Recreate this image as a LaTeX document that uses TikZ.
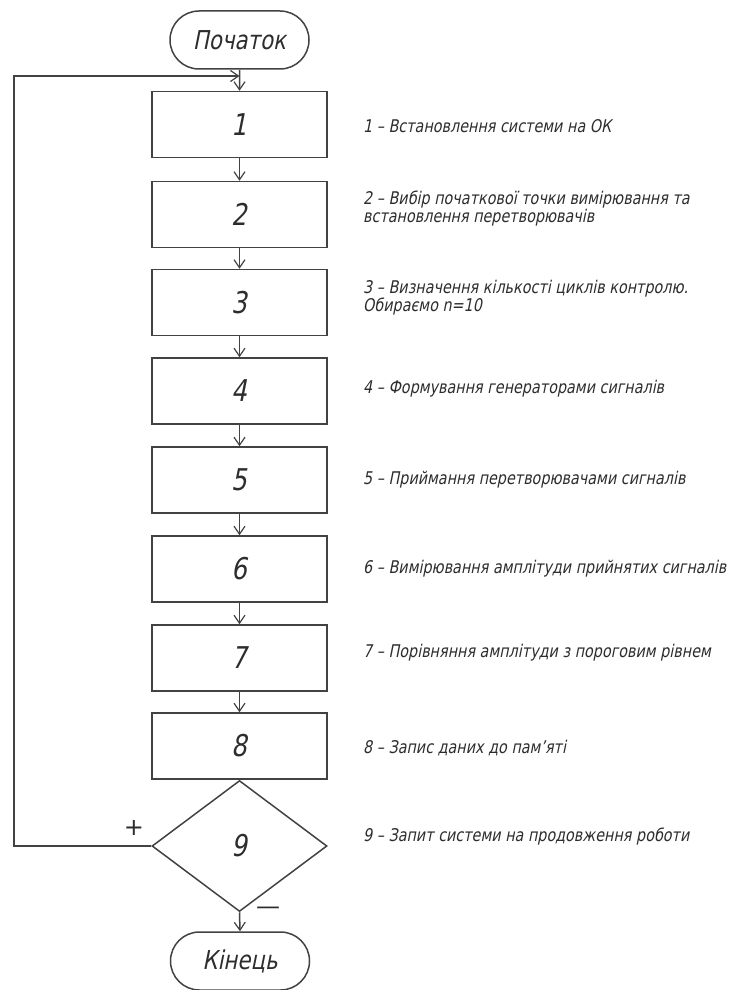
\documentclass[tikz,border=0pt]{standalone}
\usepackage{fontspec}
\usetikzlibrary{arrows.meta,shapes.geometric,shapes.misc}
\newfontfamily\gost{DejaVu Sans}[FakeSlant=0.2,FakeStretch=0.82]
\newfontfamily\gostup{DejaVu Sans}
\definecolor{linegray}{RGB}{66,66,66}
\definecolor{textgray}{RGB}{45,45,45}

\begin{document}
\begin{tikzpicture}[x=1pt,y=-1pt,
  line/.style={draw=linegray, line width=1.5pt},
  flow/.style={line, -{Straight Barb[length=8pt,width=11pt,line width=1.2pt]}},
  bignum/.style={font=\gost\fontsize{30}{30}\selectfont, text=textgray},
  stepbox/.style={line, rectangle, minimum width=175pt, minimum height=66pt,
    inner sep=0pt, bignum},
  term/.style={line, rounded rectangle, minimum width=139pt, minimum height=58pt,
    inner sep=0pt, font=\gost\fontsize{26}{26}\selectfont, text=textgray},
  decide/.style={line, diamond, minimum width=175pt, minimum height=131pt,
    inner sep=0pt, bignum},
  note/.style={anchor=west, align=left, inner sep=0pt, text=textgray,
    font=\gost\fontsize{17.5}{18}\selectfont},
  sign/.style={inner sep=0pt, text=textgray, font=\gostup\fontsize{24}{24}\selectfont}
]
\useasboundingbox (0,0) rectangle (733,990);

% terminals
\node[term] (start) at (239.5,40) {Початок};
\node[term] (stop)  at (240,961) {Кінець};

% process steps
\node[stepbox] (s1) at (239.5,124.5) {1};
\node[stepbox] (s2) at (239.5,214.5) {2};
\node[stepbox] (s3) at (239.5,302.5) {3};
\node[stepbox] (s4) at (239.5,391) {4};
\node[stepbox] (s5) at (239.5,480) {5};
\node[stepbox] (s6) at (239.5,569) {6};
\node[stepbox] (s7) at (239.5,658) {7};
\node[stepbox] (s8) at (239.5,746) {8};

% decision
\node[decide, anchor=north] (s9) at (s8.south) {9};

% main flow
\draw[flow] (start) -- (s1);
\draw[flow] (s1) -- (s2);
\draw[flow] (s2) -- (s3);
\draw[flow] (s3) -- (s4);
\draw[flow] (s4) -- (s5);
\draw[flow] (s5) -- (s6);
\draw[flow] (s6) -- (s7);
\draw[flow] (s7) -- (s8);
\draw[flow] (s9.south) -- (stop.north);

% loop back on "+"
\coordinate (loopin) at (239.5,76);
\coordinate (leftrail) at (14,0);
\draw[flow] (s9.west) -- (s9.west -| leftrail) |- (loopin);

\node[sign] (plus)  at (134,828) {+};
\node[sign] (minus) at (268,911) {—};

% step descriptions
\node[note] (n1) at (363,126) {1 – Встановлення системи на ОК};
\node[note] (n2) at (363,209) {2 – Вибір початкової точки вимірювання та\\встановлення перетворювачів};
\node[note] (n3) at (363,298) {3 – Визначення кількості циклів контролю.\\Обираємо n=10};
\node[note] (n4) at (363,389) {4 – Формування генераторами сигналів};
\node[note] (n5) at (363,480) {5 – Приймання перетворювачами сигналів};
\node[note] (n6) at (363,569) {6 – Вимірювання амплітуди прийнятих сигналів};
\node[note] (n7) at (363,653) {7 – Порівняння амплітуди з пороговим рівнем};
\node[note] (n8) at (363,748) {8 – Запис даних до пам’яті};
\node[note] (n9) at (363,837) {9 – Запит системи на продовження роботи};
\end{tikzpicture}
\end{document}
